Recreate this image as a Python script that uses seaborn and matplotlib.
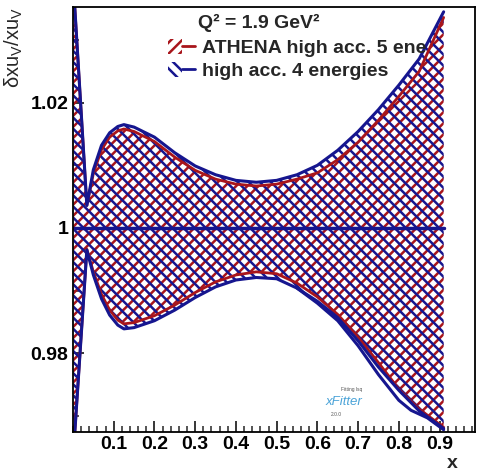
import matplotlib
matplotlib.use("Agg")
import matplotlib.pyplot as plt
import seaborn as sns
from matplotlib.patches import Patch
from matplotlib.lines import Line2D
from matplotlib.legend_handler import HandlerTuple
from matplotlib.ticker import MultipleLocator, FixedLocator, FixedFormatter

# ---------------- data ----------------
x_vals = [0.001, 0.034, 0.05, 0.07, 0.09, 0.11, 0.125, 0.15, 0.2, 0.25, 0.3, 0.35,
          0.4, 0.45, 0.5, 0.55, 0.6, 0.65, 0.7, 0.75, 0.8, 0.85, 0.91]

blue_upper = [1.0388, 1.0036, 1.0093, 1.0132, 1.0152, 1.0162, 1.0165, 1.0161, 1.0145,
              1.0120, 1.0099, 1.0085, 1.0076, 1.0073, 1.0076, 1.0085, 1.0100, 1.0124,
              1.0154, 1.0189, 1.0228, 1.0270, 1.0345]
blue_lower = [0.9640, 0.9965, 0.9925, 0.9887, 0.9861, 0.9845, 0.9839, 0.9841, 0.9852,
              0.9869, 0.9889, 0.9906, 0.9917, 0.9921, 0.9919, 0.9904, 0.9883, 0.9857,
              0.9820, 0.9778, 0.9741, 0.9708, 0.9680]
red_upper = [1.0388, 1.0036, 1.0087, 1.0125, 1.0145, 1.0155, 1.0158, 1.0154, 1.0138,
             1.0113, 1.0092, 1.0078, 1.0070, 1.0067, 1.0070, 1.0078, 1.0088, 1.0109,
             1.0137, 1.0172, 1.0210, 1.0250, 1.0336]
red_lower = [0.9640, 0.9966, 0.9930, 0.9894, 0.9869, 0.9853, 0.9847, 0.9849, 0.9860,
             0.9877, 0.9897, 0.9914, 0.9925, 0.9930, 0.9927, 0.9912, 0.9890, 0.9862,
             0.9826, 0.9785, 0.9743, 0.9711, 0.9682]
central = [1.0] * len(x_vals)

# second (outer) blue lower edge at high x
x_outer = [0.55, 0.6, 0.65, 0.7, 0.75, 0.8, 0.83, 0.87, 0.91]
blue_outer = [0.9904, 0.9880, 0.9852, 0.9812, 0.9766, 0.9725, 0.9709, 0.9697, 0.9678]

x_ticks = [0.1, 0.2, 0.3, 0.4, 0.5, 0.6, 0.7, 0.8, 0.9]
x_ticklabels = ["0.1", "0.2", "0.3", "0.4", "0.5", "0.6", "0.7", "0.8", "0.9"]
y_ticks = [0.98, 1.0, 1.02]
y_ticklabels = ["0.98", "1", "1.02"]

label_red = "ATHENA high acc. 5 ene"
label_blue = "high acc. 4 energies"
title_text = "Q² = 1.9 GeV²"

RED = "#a8151b"
BLUE = "#16168f"

# ---------------- style ----------------
sns.set_style("ticks")
plt.rcParams["font.family"] = ["Liberation Sans", "DejaVu Sans"]
plt.rcParams["mathtext.fontset"] = "custom"
plt.rcParams["mathtext.rm"] = "Liberation Sans"
plt.rcParams["mathtext.it"] = "Liberation Sans:italic"
plt.rcParams["hatch.linewidth"] = 1.8

fig = plt.figure(figsize=(4.78, 4.75), dpi=100)
W, H = 478, 475
left_px, right_px, top_px, bottom_px = 73, 475, 7, 432
ax = fig.add_axes([left_px / W, 1 - bottom_px / H,
                   (right_px - left_px) / W, (bottom_px - top_px) / H])

# hatched bands
ax.fill_between(x_vals, red_lower, red_upper, facecolor="none", edgecolor=RED,
                hatch="///", linewidth=0)
ax.fill_between(x_vals, blue_lower, blue_upper, facecolor="none", edgecolor=BLUE,
                hatch="\\\\\\", linewidth=0)

# edge lines
for yv, c, lw in [(red_upper, RED, 2.0), (red_lower, RED, 2.0),
                  (blue_upper, BLUE, 2.2), (blue_lower, BLUE, 2.2)]:
    sns.lineplot(x=x_vals, y=yv, ax=ax, color=c, lw=lw, sort=False, estimator=None)
sns.lineplot(x=x_outer, y=blue_outer, ax=ax, color=BLUE, lw=2.2, sort=False, estimator=None)
sns.lineplot(x=x_vals, y=central, ax=ax, color=RED, lw=2.0, sort=False, estimator=None)
sns.lineplot(x=x_vals, y=central, ax=ax, color=BLUE, lw=2.5, sort=False, estimator=None)

ax.set_xlim(0, 0.987)
ax.set_ylim(0.96744, 1.03527)

# ticks
ax.xaxis.set_major_locator(FixedLocator(x_ticks))
ax.xaxis.set_major_formatter(FixedFormatter(x_ticklabels))
ax.xaxis.set_minor_locator(MultipleLocator(0.02))
ax.yaxis.set_major_locator(FixedLocator(y_ticks))
ax.yaxis.set_major_formatter(FixedFormatter(y_ticklabels))
ax.yaxis.set_minor_locator(MultipleLocator(0.01))
ax.tick_params(axis="both", which="major", direction="in", length=8, width=1.1,
               labelsize=14, colors="black")
ax.tick_params(axis="both", which="minor", direction="in", length=4, width=1.1)
ax.tick_params(axis="x", which="major", pad=3)
ax.tick_params(axis="y", which="major", pad=3.5)
for lab in ax.get_xticklabels() + ax.get_yticklabels():
    lab.set_fontweight("bold")

for s in ["left", "bottom", "top", "right"]:
    ax.spines[s].set_visible(True)
    ax.spines[s].set_color("black")
    ax.spines[s].set_linewidth(1.3)

# axis labels
ax.set_xlabel("x", fontsize=14, fontweight="bold", loc="right")
ax.xaxis.set_label_coords(0.958, -0.053)
ax.set_ylabel(r"δxu$_\mathregular{V}$/xu$_\mathregular{V}$", fontsize=14.5, loc="top")
ax.yaxis.set_label_coords(-0.12, 1.0)

# legend
handles = [
    (Patch(facecolor="none", edgecolor=RED, hatch="///", linewidth=0),
     Line2D([], [], color=RED, lw=2)),
    (Patch(facecolor="none", edgecolor=BLUE, hatch="\\\\\\", linewidth=0),
     Line2D([], [], color=BLUE, lw=2)),
]
leg = ax.legend(handles, [label_red, label_blue],
                handler_map={tuple: HandlerTuple(ndivide=None, pad=0)},
                loc="upper left", bbox_to_anchor=(168 / W, 1 - 39 / H),
                bbox_transform=fig.transFigure, frameon=False,
                prop={"size": 14, "weight": "bold"}, handlelength=1.4,
                handleheight=0.8, handletextpad=0.35, labelspacing=0.25,
                borderpad=0, borderaxespad=0)
fig.text(198 / W, 1 - 23 / H, title_text, fontsize=14, fontweight="bold",
         ha="left", va="center")

# xFitter logo (small text)
fig.text(344 / W, 1 - 402 / H, "xFitter", fontsize=9.5, style="italic",
         color="#4aa3d8", ha="center", va="center")
fig.text(352 / W, 1 - 389 / H, "Fitting lsq", fontsize=3.5, color="#555555",
         ha="center", va="center")
fig.text(336 / W, 1 - 415 / H, "2.0.0", fontsize=3.5, color="#555555",
         ha="center", va="center")

fig.savefig("out.png", dpi=100)
